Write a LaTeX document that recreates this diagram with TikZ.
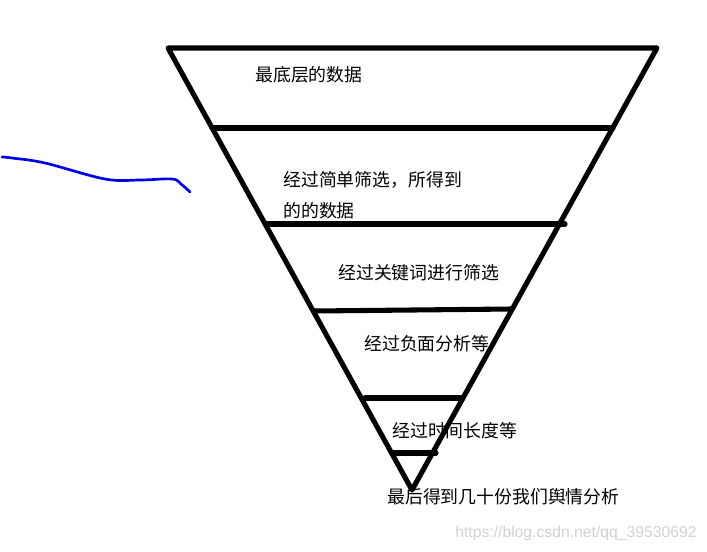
\documentclass[tikz,border=0pt]{standalone}
\usepackage{fontspec}
\newfontfamily\cjk{Noto Sans CJK SC}
\newfontfamily\wm{Liberation Sans}
\begin{document}
\begin{tikzpicture}[x=0.75pt,y=-0.75pt,
  bar/.style={line width=3.8pt,line cap=round},
  lbl/.style={anchor=west,inner sep=0pt,font=\cjk\fontsize{13.4pt}{15pt}\selectfont,text=black},
  scribble/.style={draw=blue!90!black,line width=2pt,line cap=round}]
\useasboundingbox (0,0) rectangle (707,551);
% funnel outline
\coordinate (tl) at (168,48);
\coordinate (tr) at (657,48);
\coordinate (ap) at (412,490);
\draw[bar,line join=round] (tr) -- (tl) -- (ap) -- cycle;
% horizontal bars
\coordinate (a1) at (212,128); \coordinate (b1) at (613,128);
\coordinate (a2) at (265,224); \coordinate (b2) at (565,224);
\coordinate (a3) at (314,311); \coordinate (b3) at (511,309);
\coordinate (a4) at (365,398); \coordinate (b4) at (463,398);
\coordinate (a5) at (393,453); \coordinate (b5) at (436,453);
\draw[bar] (a1) -- (b1);
\draw[bar] (a2) -- (b2);
\draw[bar] (a3) -- (b3);
\draw[bar] (a4) -- (b4);
\draw[bar] (a5) -- (b5);
% labels
\node[lbl] (t1) at (255,75) {最底层的数据};
\node[lbl] (t2) at (283,180) {经过简单筛选，所得到};
\node[lbl] (t2b) at (283,211) {的的数据};
\node[lbl] (t3) at (338,273) {经过关键词进行筛选};
\node[lbl] (t4) at (364,344) {经过负面分析等};
\node[lbl] (t5) at (392,431) {经过时间长度等};
\node[lbl] (t6) at (387,497) {最后得到几十份我们舆情分析};
\node[anchor=west,inner sep=0pt,font=\wm\fontsize{11.8pt}{13pt}\selectfont,text=black!18] (wmk) at (455,533) {https://blog.csdn.net/qq\_39530692};
% blue scribble
\draw[scribble] plot[smooth,tension=0.6] coordinates {(2,157) (12,158) (45,163) (105,179) (140,180) (172,179) (181,184) (190,192)};
\end{tikzpicture}
\end{document}
